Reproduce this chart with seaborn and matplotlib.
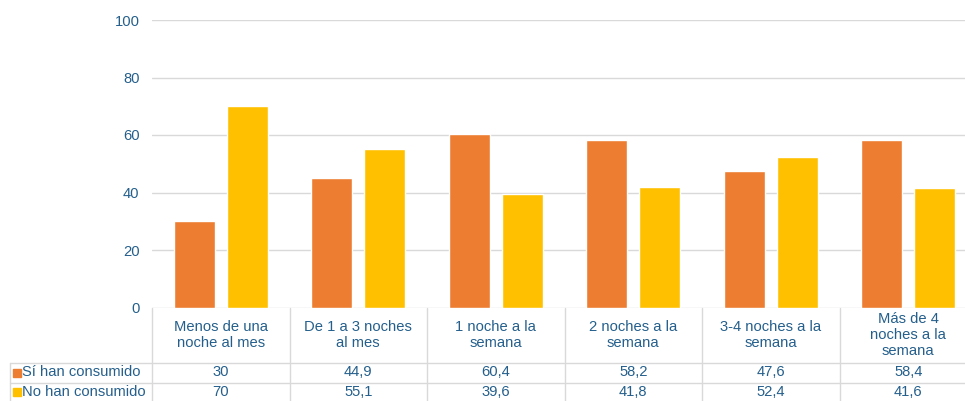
import matplotlib
matplotlib.use("Agg")
import matplotlib.pyplot as plt
import matplotlib.transforms as mtransforms
import seaborn as sns
import pandas as pd

# Data
categories = ["Menos de una\nnoche al mes", "De 1 a 3 noches\nal mes", "1 noche a la\nsemana",
              "2 noches a la\nsemana", "3-4 noches a la\nsemana", "Más de 4\nnoches a la\nsemana"]
si_consumido = [30, 44.9, 60.4, 58.2, 47.6, 58.4]
no_consumido = [70, 55.1, 39.6, 41.8, 52.4, 41.6]
series_names = ["Sí han consumido", "No han consumido"]
y_ticks = [0, 20, 40, 60, 80, 100]

ORANGE = "#ED7D31"
YELLOW = "#FFC000"
TEXT = "#245F8C"
GRID = "#D9D9D9"
FS = 10.6

df = pd.DataFrame({
    "cat": categories * 2,
    "value": si_consumido + no_consumido,
    "serie": [series_names[0]] * len(categories) + [series_names[1]] * len(categories),
})

sns.set_theme(style="white")
plt.rcParams["font.family"] = ["Liberation Sans", "DejaVu Sans"]

W, H = 965, 401
fig = plt.figure(figsize=(W / 100, H / 100), dpi=100)
# plot area in pixels: x 152..977, y 20..307.5
ax = fig.add_axes([152 / W, (H - 307.5) / H, (977 - 152) / W, 287.5 / H])

sns.barplot(data=df, x="cat", y="value", hue="serie", palette=[ORANGE, YELLOW],
            width=0.77, gap=0.23, ax=ax, legend=False, saturation=1)

ax.set_ylim(0, 100)
ax.set_xlim(-0.5, len(categories) - 0.5)
ax.set_yticks(y_ticks)
ax.set_yticklabels([str(t) for t in y_ticks], color=TEXT, fontsize=FS)
ax.tick_params(axis="y", length=0, pad=9)
ax.set_xticks([])
ax.set_xlabel("")
ax.set_ylabel("")
for s in ax.spines.values():
    s.set_visible(False)
for t in y_ticks:
    ax.axhline(t, color=GRID, lw=1, zorder=0)

# table under the chart
ph = 287.5  # axes height in px


def yfrac(py):
    return -(py - 307.5) / ph


trans = mtransforms.blended_transform_factory(ax.transData, ax.transAxes)
n = len(categories)
for k in range(n + 1):
    ax.plot([k - 0.5, k - 0.5], [0, yfrac(401)], transform=trans, color=GRID, lw=1, clip_on=False)

# horizontal row lines across the whole width (including the label column)
for py in [363, 382.5]:
    fig.add_artist(plt.Line2D([10 / W, 1], [1 - py / H, 1 - py / H], color=GRID, lw=1))
fig.add_artist(plt.Line2D([10 / W, 10 / W], [1 - 363 / H, 0], color=GRID, lw=1))

for k, cat in enumerate(categories):
    ax.text(k, yfrac(335), cat, transform=trans, ha="center", va="center",
            color=TEXT, fontsize=FS, linespacing=1.17, clip_on=False)
    ax.text(k, yfrac(372.5), f"{si_consumido[k]:g}".replace(".", ","), transform=trans,
            ha="center", va="center", color=TEXT, fontsize=FS, clip_on=False)
    ax.text(k, yfrac(392), f"{no_consumido[k]:g}".replace(".", ","), transform=trans,
            ha="center", va="center", color=TEXT, fontsize=FS, clip_on=False)

# row labels with colour keys
for py, name, col in [(372.5, series_names[0], ORANGE), (392, series_names[1], YELLOW)]:
    fig.patches.append(plt.Rectangle((13 / W, 1 - (py + 4) / H), 8 / W, 8 / H,
                                     transform=fig.transFigure, color=col))
    fig.text(22 / W, 1 - py / H, name, ha="left", va="center", color=TEXT, fontsize=FS)

fig.savefig("out.png", dpi=100)
